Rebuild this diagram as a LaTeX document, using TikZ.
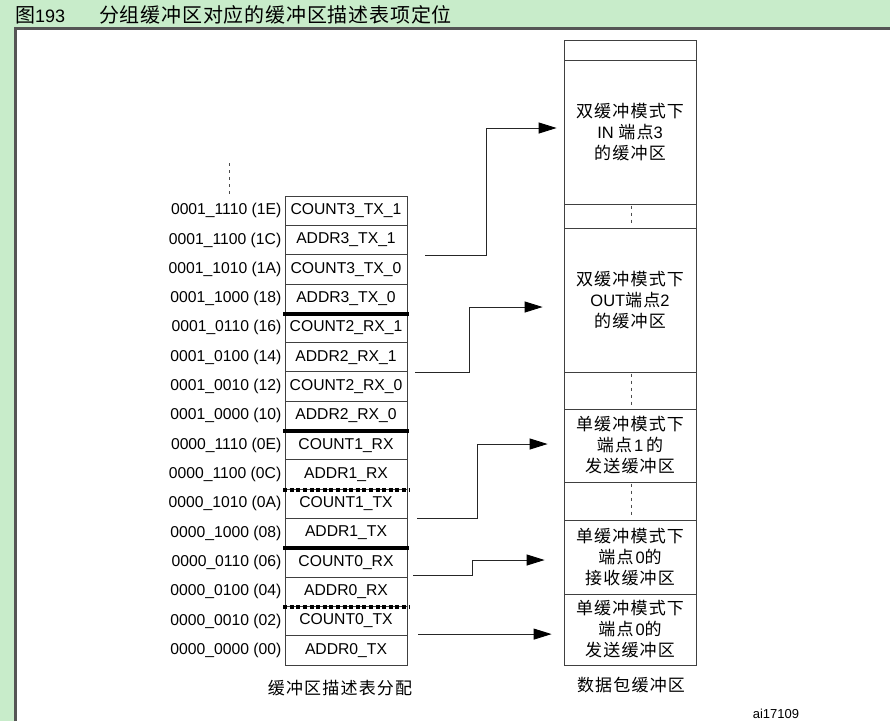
\documentclass[tikz,border=0pt]{standalone}
\usepackage{fontspec}
\setmainfont{Liberation Sans}
\newfontfamily\cjk[LetterSpace=7]{Noto Sans CJK SC}
\newfontfamily\cjkt[LetterSpace=4]{Noto Sans CJK SC}
\newfontfamily\cjkp{Noto Sans CJK SC}
\usetikzlibrary{arrows.meta}
\definecolor{bggreen}{RGB}{200,236,202}
\definecolor{framegray}{RGB}{85,85,85}
\newcommand{\lt}[1]{{\fontsize{16.5}{21}\selectfont #1}}
\begin{document}
\begin{tikzpicture}[x=1pt,y=-1pt,
  rowbox/.style={draw=black!75,line width=0.8pt,minimum width=122pt,minimum height=29.3125pt,inner sep=0pt,font=\fontsize{15.7}{17}\selectfont},
  addr/.style={anchor=east,inner sep=0pt,font=\fontsize{15.7}{17}\selectfont},
  colbox/.style={draw=black!75,line width=0.8pt,minimum width=132pt,inner sep=0pt,align=center,font=\fontsize{17}{21}\selectfont},
  sepsolid/.style={line width=4pt,black},
  sepdot/.style={line width=4pt,black,dash pattern=on 4pt off 2.6pt},
  vdash/.style={black!70,line width=0.7pt,dash pattern=on 3pt off 4pt},
  conn/.style={draw=black!85,line width=0.9pt},
  tip/.style={-{Triangle[length=18pt,width=11pt,fill=black,color=black]}},
  lbl/.style={inner sep=0pt,font=\fontsize{17}{18}\selectfont\cjk}
]
\useasboundingbox (0,0) rectangle (890,721);
\fill[bggreen] (0,0) rectangle (890,721);
\fill[white] (16,29) rectangle (890,721);
\draw[framegray,line width=2.5pt] (15.4,721) -- (15.4,28.7) -- (890,28.7);

% title
\node[anchor=west,inner sep=0pt] (t1) at (15,15) {{\fontsize{20}{22}\selectfont\cjkp 图}{\fontsize{18}{20}\selectfont 193}};
\node[anchor=west,inner sep=0pt] (t2) at (99,15) {\fontsize{20}{22}\selectfont\cjkt 分组缓冲区对应的缓冲区描述表项定位};

% left table
\foreach \t/\a [count=\i from 0] in {
  {COUNT3\_TX\_1}/{0001\_1110 (1E)},
  {ADDR3\_TX\_1}/{0001\_1100 (1C)},
  {COUNT3\_TX\_0}/{0001\_1010 (1A)},
  {ADDR3\_TX\_0}/{0001\_1000 (18)},
  {COUNT2\_RX\_1}/{0001\_0110 (16)},
  {ADDR2\_RX\_1}/{0001\_0100 (14)},
  {COUNT2\_RX\_0}/{0001\_0010 (12)},
  {ADDR2\_RX\_0}/{0001\_0000 (10)},
  {COUNT1\_RX}/{0000\_1110 (0E)},
  {ADDR1\_RX}/{0000\_1100 (0C)},
  {COUNT1\_TX}/{0000\_1010 (0A)},
  {ADDR1\_TX}/{0000\_1000 (08)},
  {COUNT0\_RX}/{0000\_0110 (06)},
  {ADDR0\_RX}/{0000\_0100 (04)},
  {COUNT0\_TX}/{0000\_0010 (02)},
  {ADDR0\_TX}/{0000\_0000 (00)}}
{
  \node[rowbox] (r\i) at (346,{196+29.3125*(\i+0.5)}) {\t};
  \node[addr] (a\i) at (281.5,{196+29.3125*(\i+0.5)}) {\a};
}
\foreach \k in {3,7,11}{
  \draw[sepsolid] ([xshift=-1.5pt]r\k.south west) -- ([xshift=1.5pt]r\k.south east);
}
\foreach \k in {9,13}{
  \draw[sepdot] ([xshift=-1.5pt]r\k.south west) -- ([xshift=1.5pt]r\k.south east);
}
\coordinate (topd1) at (229,163);
\coordinate (topd2) at (229,194);
\draw[vdash] (topd1) -- (topd2);

% right column
\node[colbox,minimum height=20pt] (b0) at (630,50) {};
\node[colbox,minimum height=144pt] (b1) at (630,132) {{\cjk 双缓冲模式下}\\\lt{IN }{\cjk 端点}\lt{3}\\{\cjk 的缓冲区}};
\node[colbox,minimum height=24pt] (d1) at (630,216) {};
\node[colbox,minimum height=144pt] (b2) at (630,300) {{\cjk 双缓冲模式下}\\\lt{OUT}{\cjk 端点}\lt{2}\\{\cjk 的缓冲区}};
\node[colbox,minimum height=37pt] (d2) at (630,390.5) {};
\node[colbox,minimum height=73pt] (b3) at (630,445.5) {{\cjk 单缓冲模式下}\\{\cjk 端点}\hspace{2pt}\lt{1}\hspace{3pt}{\cjk 的}\\{\cjk 发送缓冲区}};
\node[colbox,minimum height=38pt] (d3) at (630,501) {};
\node[colbox,minimum height=74pt] (b4) at (630,557) {{\cjk 单缓冲模式下}\\{\cjk 端点}\hspace{2pt}\lt{0}{\cjk 的}\\{\cjk 接收缓冲区}};
\node[colbox,minimum height=71pt] (b5) at (630,629.5) {{\cjk 单缓冲模式下}\\{\cjk 端点}\hspace{2pt}\lt{0}{\cjk 的}\\{\cjk 发送缓冲区}};
\foreach \d in {d1,d2,d3}{
  \draw[vdash] ([xshift=1pt,yshift=-2pt]\d.north) -- ([xshift=1pt,yshift=2pt]\d.south);
}

% connectors
\coordinate (s1) at ([xshift=18pt]r1.south east);
\coordinate (e1) at ([xshift=-7pt,yshift=4pt]b1.west);
\draw[conn,tip] (s1) -- ++(61,0) |- (e1);
\coordinate (s2) at ([xshift=8pt]r5.south east);
\coordinate (e2) at ([xshift=-21pt,yshift=-7pt]b2.west);
\draw[conn,tip] (s2) -- ++(54,0) |- (e2);
\coordinate (s3) at ([xshift=10pt]r10.south east);
\coordinate (e3) at ([xshift=-16pt,yshift=1.5pt]b3.west);
\draw[conn,tip] (s3) -- ++(60,0) |- (e3);
\coordinate (s4) at ([xshift=6pt,yshift=2pt]r12.south east);
\coordinate (e4) at ([xshift=-19pt,yshift=-3pt]b4.west);
\draw[conn,tip] (s4) -- ++(59,0) |- (e4);
\coordinate (s5) at ([xshift=11pt,yshift=2pt]r14.south east);
\coordinate (e5) at ([xshift=-12pt]s5 -| b5.west);
\draw[conn,tip] (s5) -- (e5);

% labels
\node[lbl] (l1) at (340,688) {缓冲区描述表分配};
\node[lbl] (l2) at (631,685) {数据包缓冲区};
\node[inner sep=0pt,font=\fontsize{13}{15}\selectfont] (l3) at (776,714) {ai17109};
\end{tikzpicture}
\end{document}
